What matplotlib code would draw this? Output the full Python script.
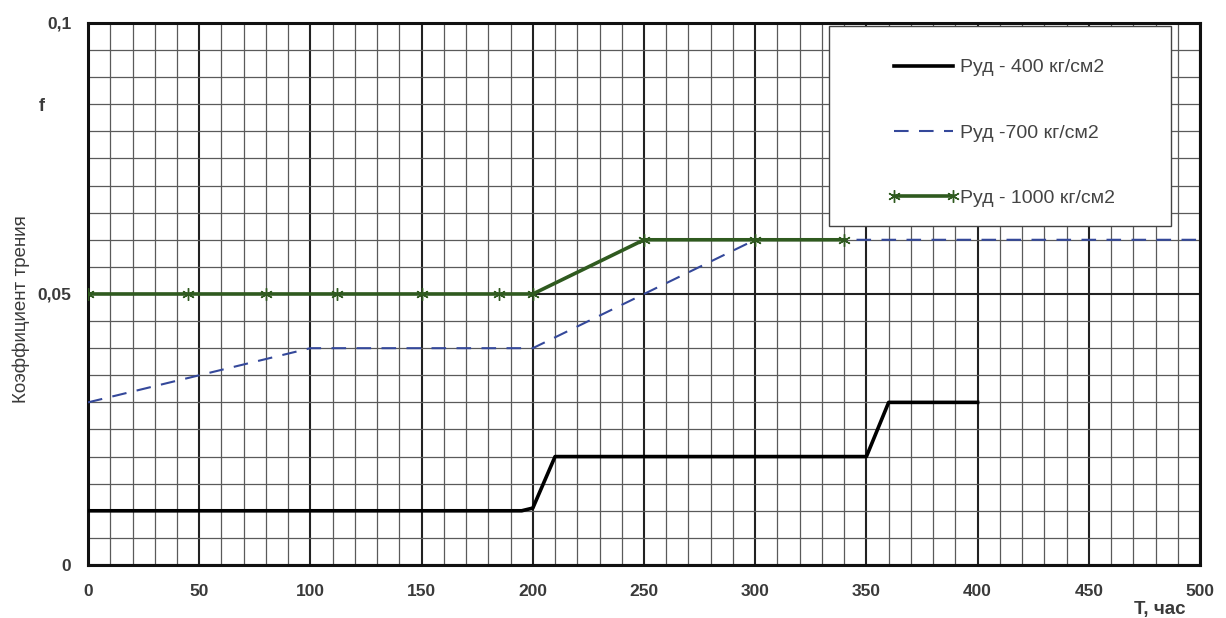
import numpy as np
import matplotlib.pyplot as plt
from matplotlib.ticker import MultipleLocator
from matplotlib.patches import Rectangle

plt.rcParams['font.family'] = ['Liberation Sans', 'DejaVu Sans']

# Руд - 400 кг/см2
t_400 = [0, 100, 195, 200, 210, 300, 350, 360, 400]
f_400 = [0.010, 0.010, 0.010, 0.0105, 0.020, 0.020, 0.020, 0.030, 0.030]

# Руд - 700 кг/см2
t_700 = [0, 50, 100, 150, 200, 250, 300, 400, 500]
f_700 = [0.030, 0.035, 0.040, 0.040, 0.040, 0.050, 0.060, 0.060, 0.060]

# Руд - 1000 кг/см2
t_1000 = [0, 45, 80, 112, 150, 185, 200, 250, 300, 340]
f_1000 = [0.05, 0.05, 0.05, 0.05, 0.05, 0.05, 0.05, 0.06, 0.06, 0.06]

labels = ['Руд - 400 кг/см2', 'Руд -700 кг/см2', 'Руд - 1000 кг/см2']
xticks = [0, 50, 100, 150, 200, 250, 300, 350, 400, 450, 500]
yticks = [0, 0.05, 0.1]
yticklabels = ['0', '0,05', '0,1']

txt_col = '#3a3a3a'

fig = plt.figure(figsize=(12.26, 6.18), dpi=100)
ax = fig.add_axes([0.0718, 0.0858, 0.907, 0.877])

ax.set_xlim(0, 500)
ax.set_ylim(0, 0.1)

# сетка
ax.xaxis.set_minor_locator(MultipleLocator(10))
ax.yaxis.set_minor_locator(MultipleLocator(0.005))
ax.grid(which='minor', color='#5a5a5a', linewidth=0.9)
ax.grid(which='major', color='#222222', linewidth=1.5)
ax.set_axisbelow(True)
for sp in ax.spines.values():
    sp.set_linewidth(2.2)
    sp.set_color('#111111')

l1, = ax.plot(t_400, f_400, color='black', linewidth=2.6, label=labels[0], zorder=3)
l2, = ax.plot(t_700, f_700, color='#34489a', linewidth=1.5, dashes=(7, 5), label=labels[1], zorder=3)
l3, = ax.plot(t_1000, f_1000, color='#2f5a1f', linewidth=2.6, marker=(6, 2, 0), markersize=9,
              markeredgewidth=1.0, label=labels[2], zorder=4)

ax.set_xticks(xticks)
ax.set_yticks(yticks)
ax.set_yticklabels(yticklabels)
ax.tick_params(which='both', length=0, labelsize=12.5, colors=txt_col)
ax.tick_params(axis='x', pad=14)
ax.tick_params(axis='y', pad=12)
for lab in ax.get_yticklabels() + ax.get_xticklabels():
    lab.set_fontweight('bold')

fig.text(0.034, 0.82, 'f', fontsize=13, fontweight='bold', color=txt_col, ha='center')
fig.text(0.017, 0.50, 'Коэффициент трения', rotation=90, fontsize=13.5, color=txt_col,
         ha='center', va='center')
fig.text(0.946, 0.006, 'T, час', fontsize=13.5, fontweight='bold', color=txt_col, ha='center')

# рамка легенды
box = Rectangle((333, 0.0625), 154, 0.037, facecolor='white', edgecolor='#444444',
                linewidth=1.0, zorder=5)
ax.add_patch(box)
leg = ax.legend(handles=[l1, l2, l3], loc='upper left', bbox_to_anchor=(0.711, 0.952),
                frameon=False, fontsize=14, labelspacing=2.45, numpoints=2,
                handlelength=3.6, borderpad=0.0, handletextpad=0.1)
leg.set_zorder(6)
for txt in leg.get_texts():
    txt.set_color('#444444')

fig.savefig('out.png', dpi=100)
